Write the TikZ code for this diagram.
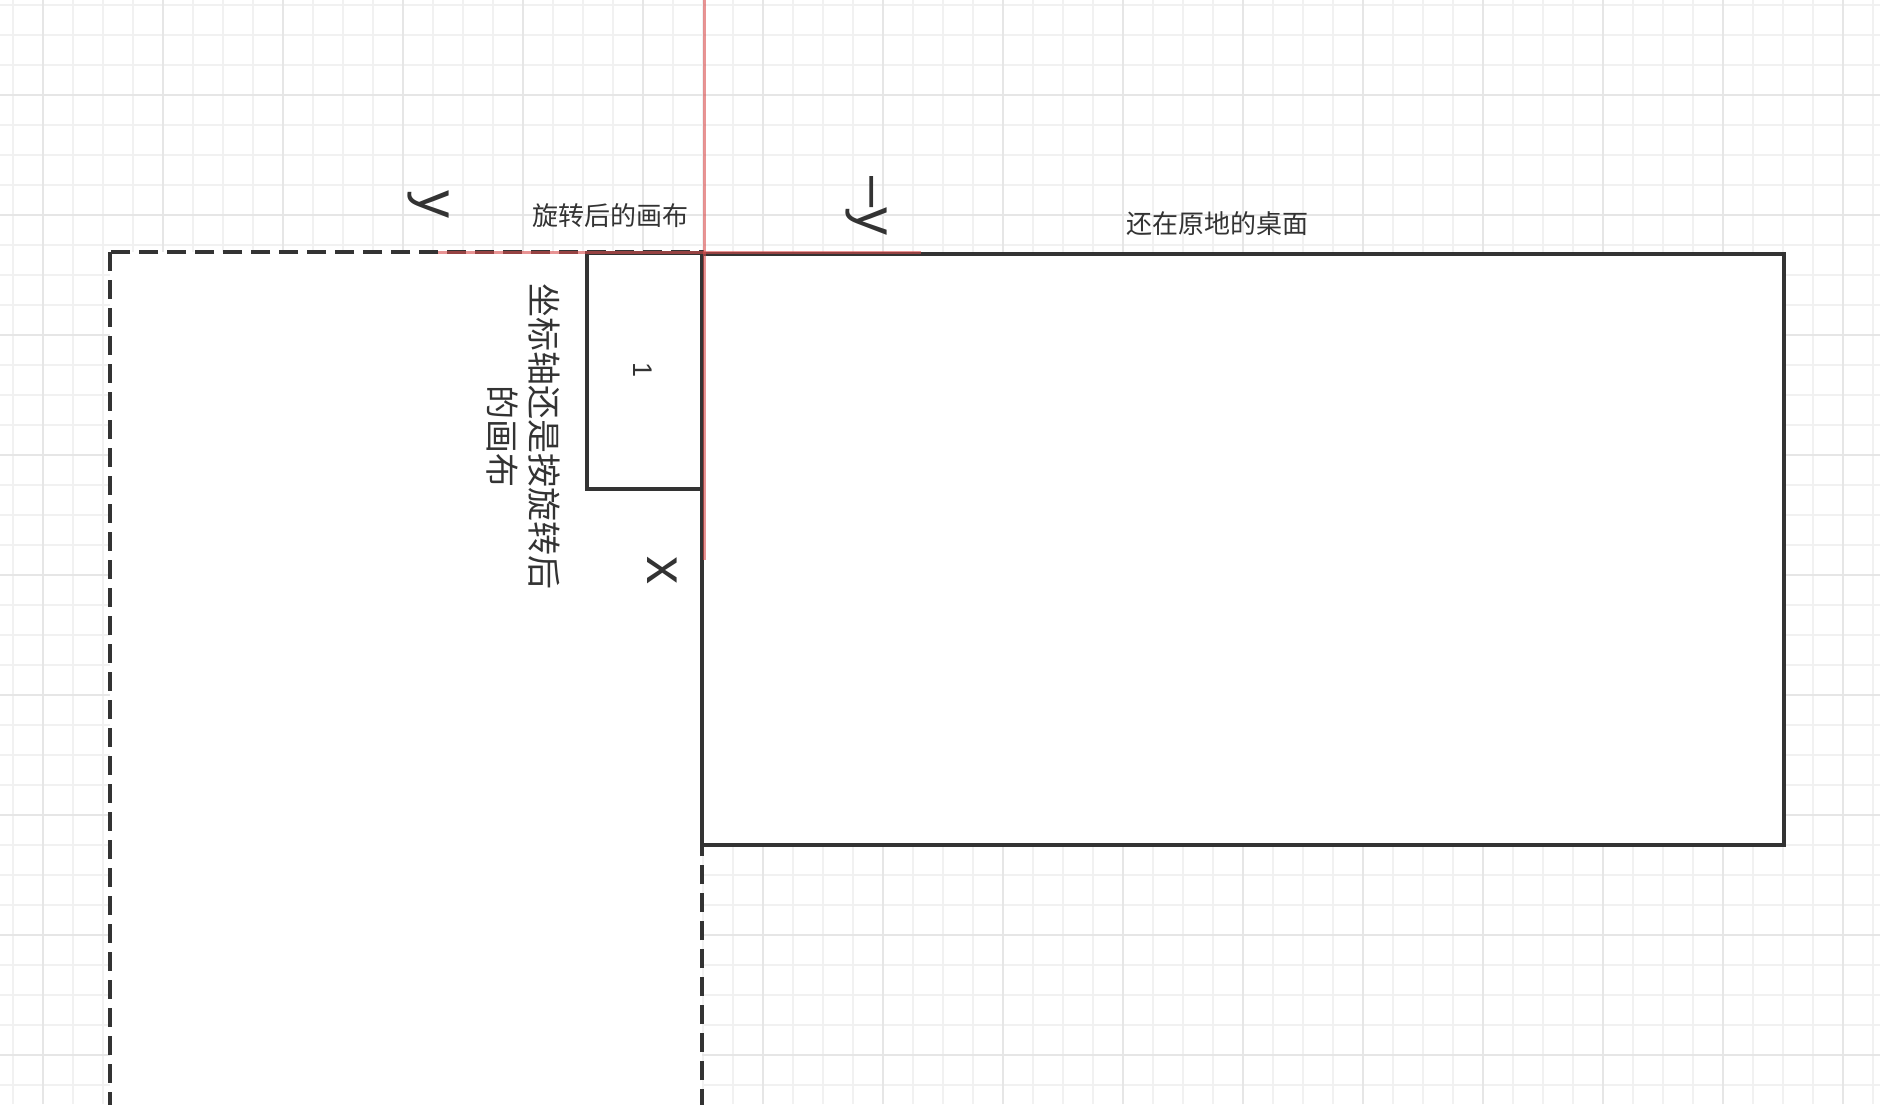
\documentclass[tikz,border=0pt]{standalone}
\usepackage{fontspec}
\setmainfont{Noto Sans CJK SC}
\newfontfamily\latinfont{Liberation Sans}
\definecolor{gridminor}{HTML}{F1F1F1}
\definecolor{gridmajor}{HTML}{E6E6E6}
\definecolor{ink}{HTML}{333333}
\definecolor{axisred}{HTML}{D94C4C}

\begin{document}
\begin{tikzpicture}[x=1pt, y=-1pt,
  minor/.style={draw=gridminor, line width=1.5pt},
  major/.style={draw=gridmajor, line width=1.5pt},
  box/.style={draw=ink, line width=3.5pt, fill=white},
  axis/.style={draw=axisred, line width=3pt, opacity=0.6},
  lbl/.style={text=ink, inner sep=0pt, font=\fontsize{26}{30}\selectfont},
  letter/.style={text=ink, inner sep=0pt, rotate=-90, font=\latinfont\fontsize{56}{60}\selectfont}]
\useasboundingbox (0,0) rectangle (1880,1104);
\clip (0,0) rectangle (1880,1104);

% Raster
\foreach \x in {13,43,...,1880} \draw[minor] (\x,0) -- (\x,1104);
\foreach \y in {5,35,...,1104} \draw[minor] (0,\y) -- (1880,\y);
\foreach \x in {43,163,...,1880} \draw[major] (\x,0) -- (\x,1104);
\foreach \y in {95,215,...,1104} \draw[major] (0,\y) -- (1880,\y);

% gedrehte Leinwand
\draw[box, dash pattern=on 19pt off 9pt] (110,252) rectangle (702,1140);
\draw[box] (587,253) rectangle (702,489); % Kaestchen 1

% Tisch
\draw[box] (702,254) rectangle (1784,845);

% Achsen
\draw[axis] (704,0) -- (704,560); % vertikal
\draw[axis] (438,252) -- (921,252); % horizontal

% Beschriftung
\node[lbl] (rotcanvas) at (610,216) {旋转后的画布};
\node[lbl] (desk) at (1217,224) {还在原地的桌面};
\node[lbl, rotate=-90, align=center, font=\fontsize{34}{42}\selectfont] (note) at (523,436) {坐标轴还是按旋转后\\的画布};
\node[lbl, rotate=-90, font=\latinfont\fontsize{27}{30}\selectfont] (num) at (643,370) {1};

\node[letter] (ypos) at (428,204) {y};
\node[letter] (yneg) at (866,206) {–y};
\node[letter] (xpos) at (662,570) {x};

\end{tikzpicture}
\end{document}
